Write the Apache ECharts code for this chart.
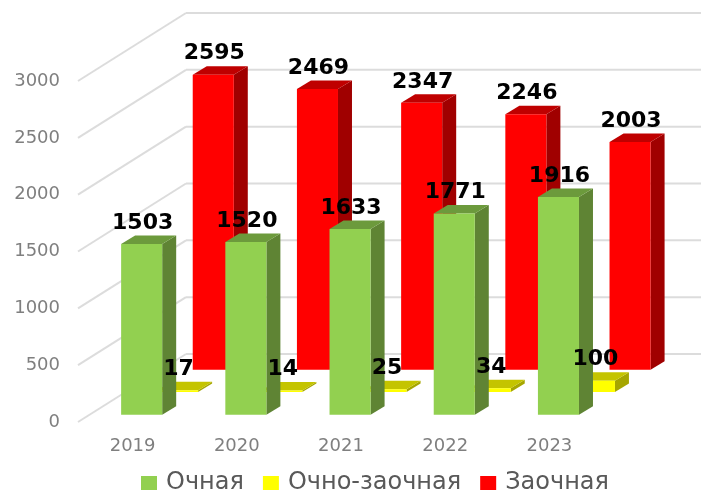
<!DOCTYPE html>
<html>
<head>
<meta charset="utf-8">
<style>
  html, body { margin: 0; padding: 0; background: #fff; }
  #chart { width: 701px; height: 492px; }
</style>
<script src="https://cdn.jsdelivr.net/npm/echarts@6/dist/echarts.min.js"></script>
</head>
<body>
<div id="chart"></div>
<script>
const categories = ["2019", "2020", "2021", "2022", "2023"];
const yTicks = [0, 500, 1000, 1500, 2000, 2500, 3000];
const ochnaya = [1503, 1520, 1633, 1771, 1916];
const ochnoZaochnaya = [17, 14, 25, 34, 100];
const zaochnaya = [2595, 2469, 2347, 2246, 2003];

// fake 3d: floor runs from the front plane to the back wall along this vector
const floorDx = 108;
const floorDy = -68;
const boxDx = 14;
const boxDy = -8.5;

const myChart = echarts.init(document.getElementById("chart"));

function wallItem(params, api) {
  const rect = params.coordSys;
  const y = api.coord([0, api.value(1)])[1];
  const style = { stroke: "#dcdcdc", lineWidth: 2, fill: "none" };
  return {
    type: "group",
    children: [
      {
        type: "line",
        shape: { x1: rect.x, y1: y, x2: rect.x + floorDx, y2: y + floorDy },
        style,
      },
      {
        type: "line",
        shape: { x1: rect.x + floorDx, y1: y + floorDy, x2: 701, y2: y + floorDy },
        style,
      },
    ],
  };
}

function boxItem(depth, colors) {
  return (params, api) => {
    const top = api.coord([api.value(0), api.value(1)]);
    const base = api.coord([api.value(0), 0]);
    const half = api.size([1, 0])[0] * 0.197;
    const l = top[0] - half + floorDx * depth;
    const r = top[0] + half + floorDx * depth;
    const t = top[1] + floorDy * depth;
    const b = base[1] + floorDy * depth;
    return {
      type: "group",
      children: [
        {
          type: "polygon",
          shape: { points: [[r, t], [r + boxDx, t + boxDy], [r + boxDx, b + boxDy], [r, b]] },
          style: { fill: colors.side },
        },
        {
          type: "polygon",
          shape: { points: [[l, t], [l + boxDx, t + boxDy], [r + boxDx, t + boxDy], [r, t]] },
          style: { fill: colors.top },
        },
        {
          type: "rect",
          shape: { x: l, y: t, width: r - l, height: b - t },
          style: { fill: colors.front },
        },
      ],
    };
  };
}

function labelItem(depth) {
  return (params, api) => {
    const top = api.coord([api.value(0), api.value(1)]);
    return {
      type: "text",
      style: {
        text: String(api.value(1)),
        x: top[0] + floorDx * depth + 1,
        y: top[1] + floorDy * depth - 21,
        fill: "#000",
        font: "bold 22px 'DejaVu Sans'",
        textAlign: "center",
        textVerticalAlign: "middle",
      },
    };
  };
}

const rows = [
  { name: "Заочная", values: zaochnaya, depth: 0.77, z: 4,
    colors: { front: "#ff0000", top: "#bf0000", side: "#a00000" } },
  { name: "Очно-заочная", values: ochnoZaochnaya, depth: 0.44, z: 5,
    colors: { front: "#ffff00", top: "#c4c400", side: "#a6a600" } },
  { name: "Очная", values: ochnaya, depth: 0.107, z: 6,
    colors: { front: "#92d050", top: "#6c9a3c", side: "#5f8434" } },
];

const series = [
  {
    type: "custom",
    name: "wall",
    silent: true,
    z: 1,
    data: yTicks.map((v) => [0, v]),
    encode: { x: 0, y: 1 },
    renderItem: wallItem,
  },
];
rows.forEach((row) => {
  const data = row.values.map((v, i) => [i, v]);
  series.push({
    type: "custom",
    name: row.name,
    z: row.z,
    itemStyle: { color: row.colors.front },
    data,
    encode: { x: 0, y: 1 },
    renderItem: boxItem(row.depth, row.colors),
  });
  series.push({
    type: "custom",
    name: row.name,
    silent: true,
    z: 10,
    itemStyle: { color: row.colors.front },
    data,
    encode: { x: 0, y: 1 },
    renderItem: labelItem(row.depth),
  });
});

const option = {
  animation: false,
  backgroundColor: "#fff",
  legend: {
    left: 136,
    top: 466,
    icon: "rect",
    itemWidth: 16,
    itemHeight: 14,
    itemGap: 19,
    data: ["Очная", "Очно-заочная", "Заочная"],
    textStyle: {
      color: "#595959",
      fontFamily: "DejaVu Sans",
      fontSize: 24,
      padding: [3, 0, 0, 4],
    },
  },
  grid: { left: 78, top: 81, width: 521, height: 341 },
  xAxis: {
    type: "category",
    data: categories,
    axisLine: { show: false },
    axisTick: { show: false },
    axisLabel: {
      color: "#7f7f7f",
      fontFamily: "DejaVu Sans",
      fontSize: 18,
      margin: 15,
      padding: [0, 0, 0, 5],
    },
  },
  yAxis: {
    type: "value",
    min: 0,
    max: 3000,
    interval: 500,
    axisLine: { show: false },
    axisTick: { show: false },
    splitLine: { show: false },
    axisLabel: {
      color: "#7f7f7f",
      fontFamily: "DejaVu Sans",
      fontSize: 18,
      margin: 18,
      padding: [9, 0, 0, 0],
      formatter: (v) => String(v),
    },
  },
  series,
};

myChart.setOption(option);
</script>
</body>
</html>
